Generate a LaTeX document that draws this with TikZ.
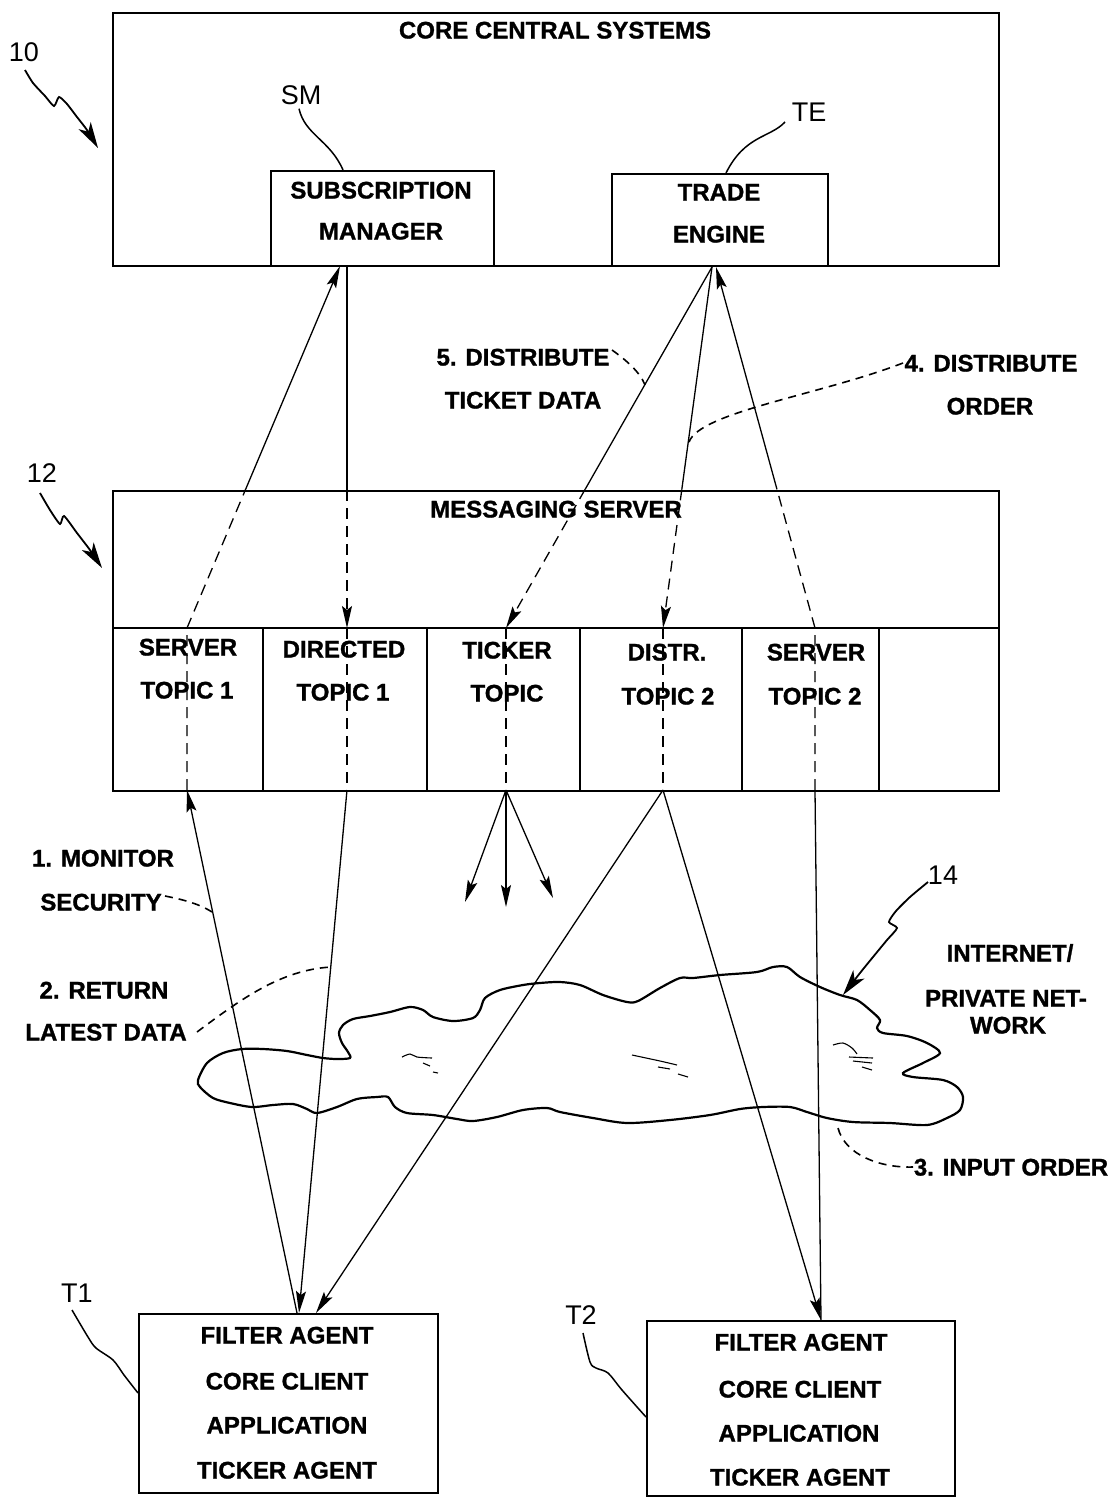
\documentclass[tikz,border=0pt]{standalone}
\usepackage{fontspec}
\setmainfont{Liberation Sans}[BoldFeatures={FakeBold=1.2}]
\usetikzlibrary{arrows.meta,calc}
\begin{document}
\begin{tikzpicture}[x=1pt,y=-1pt,
  lbl/.style={font=\bfseries\fontsize{24}{24}\selectfont, inner sep=0pt, text height=17pt, text depth=0pt},
  refl/.style={font=\fontsize{27}{27}\selectfont, inner sep=0pt, text height=19pt, text depth=0pt},
  blk/.style={draw, line width=2.4pt, inner sep=0pt, anchor=north west},
  conn/.style={line width=1.3pt},
  tipd/.style={-{Stealth[length=22pt,width=10pt,inset=4pt]}},
  dsh/.style={line width=1.3pt, dash pattern=on 11pt off 7pt},
  lead/.style={line width=1.6pt, dash pattern=on 8pt off 6pt},
  squig/.style={line width=1.8pt, -{Stealth[length=26pt,width=14pt,inset=7pt]}},
  cmark/.style={line width=1.1pt}
]
\useasboundingbox (0,0) rectangle (1115,1497);

% ---- boxes
\node[blk, minimum width=886pt, minimum height=253pt] (core) at (112,12) {};
\node[blk, minimum width=223pt, minimum height=95pt] (sm) at (270,170) {};
\node[blk, minimum width=216pt, minimum height=92pt] (te) at (611,173) {};
\node[blk, minimum width=886pt, minimum height=300pt] (ms) at (112,490) {};
\coordinate (rowL) at (112,628);
\coordinate (rowR) at (998,628);
\draw[line width=2.4pt] (rowL) -- (rowR);
\foreach \x in {263,427,580,742,879} \draw[line width=2.4pt] (\x,628) -- (\x,790);
\node[blk, minimum width=299pt, minimum height=179pt] (t1) at (138,1313) {};
\node[blk, minimum width=308pt, minimum height=175pt] (t2) at (646,1320) {};

% ---- box texts
\node[lbl] (coreT) at (555,30) {CORE CENTRAL SYSTEMS};
\node[lbl] (smT1) at (381,190) {SUBSCRIPTION};
\node[lbl] (smT2) at (381,231) {MANAGER};
\node[lbl] (teT1) at (719,192) {TRADE};
\node[lbl] (teT2) at (719,234) {ENGINE};
\node[lbl] (msT) at (556,509) {MESSAGING SERVER};
\node[lbl] (c1T1) at (188,647) {SERVER};
\node[lbl] (c1T2) at (187,690) {TOPIC 1};
\node[lbl] (c2T1) at (344,649) {DIRECTED};
\node[lbl] (c2T2) at (343,692) {TOPIC 1};
\node[lbl] (c3T1) at (507,650) {TICKER};
\node[lbl] (c3T2) at (507,693) {TOPIC};
\node[lbl] (c4T1) at (667,652) {DISTR.};
\node[lbl] (c4T2) at (668,696) {TOPIC 2};
\node[lbl] (c5T1) at (816,652) {SERVER};
\node[lbl] (c5T2) at (815,696) {TOPIC 2};
\node[lbl] (t1L1) at (287,1335) {FILTER AGENT};
\node[lbl] (t1L2) at (287,1381) {CORE CLIENT};
\node[lbl] (t1L3) at (287,1425) {APPLICATION};
\node[lbl] (t1L4) at (287,1470) {TICKER AGENT};
\node[lbl] (t2L1) at (801,1342) {FILTER AGENT};
\node[lbl] (t2L2) at (800,1389) {CORE CLIENT};
\node[lbl] (t2L3) at (799,1433) {APPLICATION};
\node[lbl] (t2L4) at (800,1477) {TICKER AGENT};

% ---- step labels
\node[lbl] (l5a) at (523,357) {5. DISTRIBUTE};
\node[lbl] (l5b) at (523,400) {TICKET DATA};
\node[lbl] (l4a) at (991,363) {4. DISTRIBUTE};
\node[lbl] (l4b) at (990,406) {ORDER};
\node[lbl] (l1a) at (103,858) {1. MONITOR};
\node[lbl] (l1b) at (101,902) {SECURITY};
\node[lbl] (l2a) at (104,990) {2. RETURN};
\node[lbl] (l2b) at (106,1032) {LATEST DATA};
\node[lbl] (l3) at (1011,1167) {3. INPUT ORDER};
\node[lbl] (netA) at (1010,953) {INTERNET/};
\node[lbl] (netB) at (1006,998) {PRIVATE NET-};
\node[lbl] (netC) at (1008,1025) {WORK};

% ---- reference labels
\node[refl] (r10) at (24,52) {10};
\node[refl] (r12) at (42,473) {12};
\node[refl] (r14) at (943,875) {14};
\node[refl] (rSM) at (301,95) {SM};
\node[refl] (rTE) at (809,112) {TE};
\node[refl] (rT1) at (77,1293) {T1};
\node[refl] (rT2) at (581,1315) {T2};

% ---- connector end points
\coordinate (smIn) at (340,266);
\coordinate (smOut) at (347,266);
\coordinate (teOut) at (712,267);
\coordinate (teIn) at (716,267);
\coordinate (c1t) at (187,628); \coordinate (c1b) at (187,790);
\coordinate (c2t) at (347,628); \coordinate (c2b) at (347,790);
\coordinate (c3t) at (506,628); \coordinate (c3b) at (506,790);
\coordinate (c4t) at (663,628); \coordinate (c4b) at (663,790);
\coordinate (c5t) at (815,628); \coordinate (c5b) at (815,790);
\coordinate (t1a) at (297,1313);
\coordinate (t1b) at (299,1313);
\coordinate (t1c) at (316,1313);
\coordinate (t2a) at (821,1320);
\coordinate (k1) at (465,902);
\coordinate (k2) at (506,907);
\coordinate (k3) at (553,898);

% 1. monitor security / server topic 1 -> SM
\draw[conn,tipd] (t1a) -- (c1b);
\draw[dsh] (c1b) -- (c1t) -- ($(c1t)!0.381!(smIn)$) coordinate (s1x);
\draw[conn,tipd] (s1x) -- (smIn);
% 2. SM -> directed topic 1 -> T1
\coordinate (s2x) at (347,490);
\draw[conn] (smOut) -- (s2x);
\draw[dsh,tipd] (s2x) -- (c2t);
\draw[dsh] (c2t) -- (c2b);
\draw[conn,tipd] (c2b) -- (t1b);
% 5. TE -> ticker topic
\draw[conn] (teOut) -- ($(teOut)!0.616!(c3t)$) coordinate (s3x);
\draw[dsh,tipd] (s3x) -- (c3t);
\draw[dsh] (c3t) -- (c3b);
\foreach \p in {k1,k2,k3} \draw[conn,tipd] (c3b) -- (\p);
% 4. TE -> distr topic 2 -> T1, T2
\draw[conn] (teOut) -- ($(teOut)!0.616!(c4t)$) coordinate (s4x);
\draw[dsh,tipd] (s4x) -- (c4t);
\draw[dsh] (c4t) -- (c4b);
\draw[conn,tipd] (c4b) -- (t1c);
\draw[conn,tipd] (c4b) -- (t2a);
% 3. T2 -> server topic 2 -> TE
\draw[conn] (t2a) -- (c5b);
\draw[dsh] (c5b) -- (c5t) -- ($(c5t)!0.384!(teIn)$) coordinate (s5x);
\draw[conn,tipd] (s5x) -- (teIn);

% ---- leaders
\draw[lead] (612,350) .. controls (626,360) and (640,372) .. (645,385);
\draw[lead] (903,363) .. controls (820,395) and (700,412) .. (689,442);
\draw[lead] (165,896) .. controls (180,899) and (198,903) .. (212,912);
\draw[lead] (197,1032) .. controls (240,1000) and (280,970) .. (331,967);
\draw[lead] (838,1128) .. controls (845,1155) and (880,1168) .. (913,1167);
\draw[line width=1.5pt] (rSM.south) ++(-2,4) .. controls (305,135) and (330,140) .. (sm.north -| 343,170);
\draw[line width=1.5pt] (785,122) .. controls (770,138) and (745,135) .. (726,173);
\draw[line width=1.5pt] plot[smooth] coordinates {(72,1310) (88,1337) (96,1348) (113,1360) (124,1375) (138,1393)};
\draw[line width=1.5pt] plot[smooth] coordinates {(583,1333) (590,1362) (596,1368) (608,1373) (622,1390) (646,1417)};

% ---- squiggle arrows
\draw[squig] plot[smooth, tension=0.4] coordinates {(25,70) (33,83) (45,96) (54,106) (59,97) (67,104) (77,117) (87,130) (98,148)};
\draw[squig] plot[smooth, tension=0.4] coordinates {(40,493) (50,510) (60,524) (64,516) (77,533) (90,550) (102,568)};
\draw[squig] plot[smooth, tension=0.4] coordinates {(928,882) (910,897) (896,911) (889,922) (897,928) (887,940) (873,957) (860,973) (843,995)};

% ---- cloud
\draw[line width=2.2pt] plot[smooth cycle, tension=0.5] coordinates {
(198,1080) (207,1063) (223,1053) (242,1049) (263,1049) (287,1051) (307,1055) (323,1058) (337,1059) (350,1058)
(348,1052) (342,1043) (339,1033) (343,1025) (353,1019) (370,1016) (390,1012) (410,1007) (423,1010) (433,1017)
(453,1021) (473,1018) (480,1010) (485,998) (500,990) (523,985) (540,983) (560,982) (580,985) (603,995)
(627,1002) (638,1001) (660,988) (680,978) (693,978) (720,975) (757,972) (773,967) (787,967) (800,977)
(820,987) (840,995) (857,1000) (870,1010) (880,1020) (877,1028) (883,1033) (907,1036) (927,1043) (940,1053)
(923,1063) (903,1073) (913,1077) (943,1080) (957,1087) (963,1097) (960,1110) (947,1118) (927,1125) (890,1123)
(853,1122) (827,1118) (807,1112) (790,1107) (763,1107) (740,1109) (710,1115) (670,1120) (627,1123) (593,1118)
(560,1112) (547,1108) (523,1110) (497,1117) (473,1121) (457,1119) (433,1115) (407,1113) (395,1107) (388,1097)
(377,1097) (357,1099) (337,1107) (317,1113) (307,1109) (293,1104) (273,1105) (252,1107) (230,1103) (213,1098)
(200,1087)};
\draw[cmark] plot[smooth] coordinates {(402,1057) (410,1054) (417,1057) (432,1058)};
\draw[cmark] (423,1063) -- (430,1066);
\draw[cmark] (433,1072) -- (438,1073);
\draw[cmark] plot[smooth] coordinates {(632,1055) (660,1061) (677,1065)};
\draw[cmark] (658,1067) -- (670,1069);
\draw[cmark] (678,1074) -- (688,1077);
\draw[cmark] plot[smooth] coordinates {(833,1045) (843,1043) (852,1048) (857,1054)};
\draw[cmark] (849,1057) -- (873,1058);
\draw[cmark] (853,1061) -- (872,1063);
\draw[cmark] (862,1067) -- (872,1070);
\end{tikzpicture}
\end{document}
